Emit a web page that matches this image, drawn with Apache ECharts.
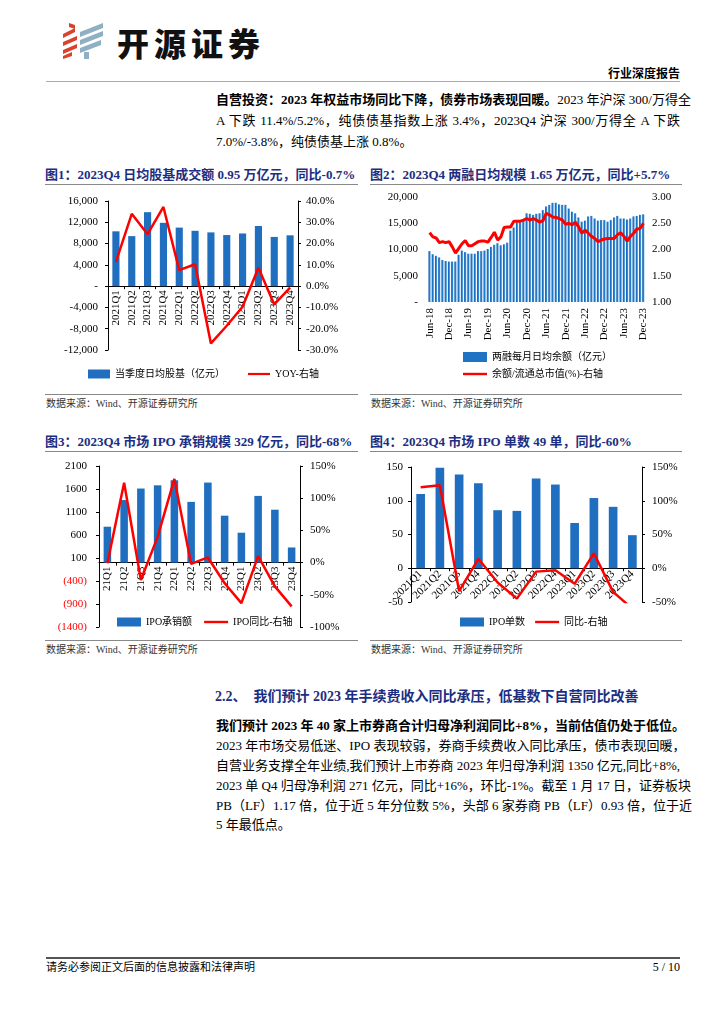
<!DOCTYPE html>
<html><head><meta charset="utf-8">
<script src="https://cdn.jsdelivr.net/npm/echarts@6.0.0/dist/echarts.min.js"></script>
<style>
body{margin:0;width:724px;height:1024px;position:relative;background:#fff;font-family:"Liberation Serif","Noto Sans CJK SC",serif;color:#000;overflow:hidden}
.a{position:absolute;white-space:nowrap}
.tx{position:absolute;font-size:13px;line-height:16px;left:216px;width:464px;white-space:nowrap}
.j{text-align:justify;text-align-last:justify}
.ct{position:absolute;font-size:13px;font-weight:bold;color:#1C2E82;white-space:nowrap;line-height:16px}
.hl{position:absolute;height:1px;background:#888}
.src{position:absolute;font-size:10px;color:#333;white-space:nowrap;line-height:12px}
.ch{position:absolute}
</style></head>
<body>
<!-- header -->
<svg class="a" style="left:0;top:0" width="120" height="70" viewBox="0 0 120 70">
 <g fill="#D8432E">
  <polygon points="69,23 75,25 75,29 69,27"/>
  <polygon points="63,34 75,28 75,32 63,38"/>
  <polygon points="63,42 77,36 77,40 63,46"/>
  <polygon points="63,50 77,44 77,48 63,54"/>
  <polygon points="63,56 72,52 72,56 63,59"/>
 </g>
 <g fill="#8FAFC3">
  <polygon points="80,32 103,23 103,28 80,37"/>
  <polygon points="80,40 103,31 103,36 80,45"/>
  <polygon points="80,48 101,40 101,45 80,53"/>
  <polygon points="84,52 89,52 89,59 84,59"/>
 </g>
</svg>
<div class="a" style="left:117px;top:24px;font-family:'Noto Sans CJK SC';font-weight:900;font-size:32px;line-height:36px;letter-spacing:5px;color:#111">开源证券</div>
<div class="a" style="right:44px;top:65px;font-family:'Noto Sans CJK SC';font-weight:bold;font-size:12px;line-height:16px">行业深度报告</div>
<div class="hl" style="left:46px;width:634px;top:81px;background:#aaa"></div>

<!-- paragraph 1 -->
<div class="tx j" style="top:92px"><b>自营投资：2023 年权益市场同比下降，债券市场表现回暖。</b>2023 年沪深 300/万得全</div>
<div class="tx j" style="top:113px">A 下跌 11.4%/5.2%，纯债债基指数上涨 3.4%，2023Q4 沪深 300/万得全 A 下跌</div>
<div class="tx" style="top:134px">7.0%/-3.8%，纯债债基上涨 0.8%。</div>

<!-- chart titles row 1 -->
<div class="ct" style="left:45px;top:167px">图1：2023Q4 日均股基成交额 0.95 万亿元，同比-0.7%</div>
<div class="ct" style="left:370px;top:167px">图2：2023Q4 两融日均规模 1.65 万亿元，同比+5.7%</div>
<div class="hl" style="left:45px;width:313px;top:184px"></div>
<div class="hl" style="left:370px;width:312px;top:184px"></div>
<div id="c1" class="ch" style="left:45px;top:186px;width:313px;height:206px"></div>
<div id="c2" class="ch" style="left:370px;top:186px;width:312px;height:206px"></div>
<div class="hl" style="left:45px;width:313px;top:394px"></div>
<div class="hl" style="left:370px;width:312px;top:394px"></div>
<div class="src" style="left:46px;top:398px">数据来源：Wind、开源证券研究所</div>
<div class="src" style="left:371px;top:398px">数据来源：Wind、开源证券研究所</div>

<!-- chart titles row 2 -->
<div class="ct" style="left:45px;top:434px">图3：2023Q4 市场 IPO 承销规模 329 亿元，同比-68%</div>
<div class="ct" style="left:370px;top:434px">图4：2023Q4 市场 IPO 单数 49 单，同比-60%</div>
<div class="hl" style="left:45px;width:313px;top:451px"></div>
<div class="hl" style="left:370px;width:312px;top:451px"></div>
<div id="c3" class="ch" style="left:45px;top:453px;width:313px;height:185px"></div>
<div id="c4" class="ch" style="left:370px;top:453px;width:312px;height:185px"></div>
<div class="hl" style="left:45px;width:313px;top:640px"></div>
<div class="hl" style="left:370px;width:312px;top:640px"></div>
<div class="src" style="left:46px;top:644px">数据来源：Wind、开源证券研究所</div>
<div class="src" style="left:371px;top:644px">数据来源：Wind、开源证券研究所</div>

<!-- section -->
<div class="a" style="left:215px;top:688px;font-size:14px;line-height:18px;font-weight:bold;color:#1C2E82">2.2、&nbsp;&nbsp;我们预计 2023 年手续费收入同比承压，低基数下自营同比改善</div>
<div class="tx" style="top:718px;font-weight:bold">我们预计 2023 年 40 家上市券商合计归母净利润同比+8%，当前估值仍处于低位。</div>
<div class="tx j" style="top:738px">2023 年市场交易低迷、IPO 表现较弱，券商手续费收入同比承压，债市表现回暖，</div>
<div class="tx j" style="top:758px">自营业务支撑全年业绩,我们预计上市券商 2023 年归母净利润 1350 亿元,同比+8%,</div>
<div class="tx j" style="top:778px">2023 单 Q4 归母净利润 271 亿元，同比+16%，环比-1%。截至 1 月 17 日，证券板块</div>
<div class="tx j" style="top:798px">PB（LF）1.17 倍，位于近 5 年分位数 5%，头部 6 家券商 PB（LF）0.93 倍，位于近</div>
<div class="tx" style="top:817px">5 年最低点。</div>

<!-- footer -->
<div class="hl" style="left:46px;width:634px;top:957px;height:2px;background:#555"></div>
<div class="a" style="left:46px;top:961px;font-size:11px;line-height:13px">请务必参阅正文后面的信息披露和法律声明</div>
<div class="a" style="right:44px;top:961px;font-size:12px;line-height:13px">5 / 10</div>

<script>
// ---------- data ----------
const quarterCats = ['2021Q1','2021Q2','2021Q3','2021Q4','2022Q1','2022Q2','2022Q3','2022Q4','2023Q1','2023Q2','2023Q3','2023Q4'];
const shortCats = ['21Q1','21Q2','21Q3','21Q4','22Q1','22Q2','22Q3','22Q4','23Q1','23Q2','23Q3','23Q4'];

const turnoverAvg = [10300, 9400, 13900, 11900, 11000, 10400, 10100, 9600, 9900, 11300, 9250, 9550];
const turnoverYoy = [11.4, 34.0, 24.4, 37.2, 7.5, 10.3, -26.9, -18.6, -9.7, 8.6, -8.6, -0.7];

const marginMonths = ['Jun-18','Jul-18','Aug-18','Sep-18','Oct-18','Nov-18','Dec-18',
 'Jan-19','Feb-19','Mar-19','Apr-19','May-19','Jun-19','Jul-19','Aug-19','Sep-19','Oct-19','Nov-19','Dec-19',
 'Jan-20','Feb-20','Mar-20','Apr-20','May-20','Jun-20','Jul-20','Aug-20','Sep-20','Oct-20','Nov-20','Dec-20',
 'Jan-21','Feb-21','Mar-21','Apr-21','May-21','Jun-21','Jul-21','Aug-21','Sep-21','Oct-21','Nov-21','Dec-21',
 'Jan-22','Feb-22','Mar-22','Apr-22','May-22','Jun-22','Jul-22','Aug-22','Sep-22','Oct-22','Nov-22','Dec-22',
 'Jan-23','Feb-23','Mar-23','Apr-23','May-23','Jun-23','Jul-23','Aug-23','Sep-23','Oct-23','Nov-23','Dec-23'];
const marginBalance = [9700,9100,8800,8500,8000,7800,7700,
 7700,7700,9000,9800,9500,9200,9200,9200,9700,9700,9800,10100,
 10500,10900,11200,10800,11000,11300,13600,14200,15200,15500,15500,16900,
 16800,16600,16800,16900,17500,18200,18500,18900,18900,18600,18500,18500,
 17800,17200,16900,16100,15300,15500,16300,16400,15900,15500,15600,15600,
 15300,15600,16100,16400,15900,15900,15700,15900,16300,16400,16600,16700];
const marginRatio = [2.32,2.24,2.22,2.13,2.15,2.13,2.15,
 2.05,1.93,2.02,2.11,2.17,2.07,2.07,2.11,2.15,2.16,2.16,2.14,
 2.23,2.33,2.18,2.24,2.42,2.43,2.43,2.54,2.54,2.54,2.56,2.59,
 2.56,2.59,2.56,2.52,2.55,2.69,2.66,2.62,2.61,2.59,2.56,2.48,
 2.50,2.47,2.52,2.43,2.31,2.37,2.31,2.25,2.21,2.15,2.18,2.20,
 2.21,2.21,2.21,2.28,2.32,2.25,2.16,2.25,2.31,2.39,2.40,2.50];

const ipoAmount = [780, 1360, 1610, 1680, 1790, 1320, 1740, 1020, 650, 1450, 1150, 329];
const ipoAmountYoy = [-1, 124, -27, 40, 130, -2, 8, -32, -63, 10, -37, -68];

const ipoCount = [110, 149, 139, 126, 86, 85, 133, 124, 67, 104, 91, 49];
const ipoCountYoy = [120, 123, -34, 14, -21, -45, -5, -3, -23, 22, -35, -60];

// ---------- styles ----------
const FF = '"Liberation Serif","Noto Sans CJK SC",serif';
const BLUE = '#1F6EBF';
const RED = '#FF0000';
const LINE_ICON = 'path://M0,0 L30,0 L30,3 L0,3 Z';
const lab = (extra) => Object.assign({fontSize:11,color:'#000',fontFamily:FF}, extra||{});
const axLine = {show:true,lineStyle:{color:'#000',width:1}};
const tick = {show:true,length:3,lineStyle:{color:'#000'}};
const comma = v => v === 0 ? '-' : v.toLocaleString('en-US');
const legendText = {fontSize:10,color:'#000',fontFamily:FF};
// distance from grid bottom to the zero line, so the category axis sits on zero
const zeroOffset = (h, min, max) => -h * (0 - min) / (max - min);

// chart 1
const c1 = echarts.init(document.getElementById('c1'));
const g1 = {h:149, min:-12000, max:16000};
c1.setOption({
  animation:false,
  grid:{left:63,top:15,width:190,height:g1.h,outerBoundsMode:'none',containLabel:false},
  legend:{left:38,top:178,itemGap:23,itemWidth:22,itemHeight:9,textStyle:legendText,
    data:[{name:'当季度日均股基（亿元）',icon:'rect'},{name:'YOY-右轴',icon:LINE_ICON}]},
  xAxis:{type:'category',data:quarterCats,offset:zeroOffset(g1.h,g1.min,g1.max),
    axisLine:{onZero:false,lineStyle:{color:'#000'}},axisTick:tick,
    axisLabel:lab({rotate:90,interval:0,margin:4})},
  yAxis:[
    {type:'value',min:g1.min,max:g1.max,interval:4000,splitLine:{show:false},axisLine:axLine,axisTick:tick,
     axisLabel:lab({formatter:comma,margin:10})},
    {type:'value',min:-30,max:40,interval:10,splitLine:{show:false},axisLine:axLine,axisTick:tick,
     axisLabel:lab({formatter:v=>v.toFixed(1)+'%',margin:8})}
  ],
  series:[
    {name:'当季度日均股基（亿元）',type:'bar',data:turnoverAvg,barWidth:'45%',itemStyle:{color:BLUE}},
    {name:'YOY-右轴',type:'line',yAxisIndex:1,data:turnoverYoy,symbol:'none',lineStyle:{color:RED,width:2.5},itemStyle:{color:RED}}
  ]
});

// chart 2
const c2 = echarts.init(document.getElementById('c2'));
c2.setOption({
  animation:false,
  grid:{left:58,top:11,width:217,height:105,outerBoundsMode:'none',containLabel:false},
  legend:{orient:'vertical',left:88,top:161,itemGap:7,itemWidth:24,itemHeight:10,textStyle:legendText,
    data:[{name:'两融每月日均余额（亿元）',icon:'rect',itemStyle:{color:'#1F73C4'}},{name:'余额/流通总市值(%)-右轴',icon:LINE_ICON}]},
  xAxis:{type:'category',data:marginMonths,axisLine:{show:false},axisTick:{show:false},
    axisLabel:lab({rotate:90,interval:5,margin:6})},
  yAxis:[
    {type:'value',min:0,max:20000,interval:5000,splitLine:{show:false},axisLine:{show:false},axisTick:{show:false},
     axisLabel:lab({formatter:comma,margin:10})},
    {type:'value',min:1,max:3,interval:0.5,splitLine:{show:false},axisLine:{show:false},axisTick:{show:false},
     axisLabel:lab({formatter:v=>v.toFixed(2),margin:7})}
  ],
  series:[
    {name:'两融每月日均余额（亿元）',type:'bar',data:marginBalance,barWidth:'72%',
     itemStyle:{color:new echarts.graphic.LinearGradient(0,0,1,0,[{offset:0,color:'#0B5DB0'},{offset:0.6,color:'#2A82D0'},{offset:1,color:'#A9D0F0'}])}},
    {name:'余额/流通总市值(%)-右轴',type:'line',yAxisIndex:1,data:marginRatio,symbol:'none',lineStyle:{color:RED,width:3},itemStyle:{color:RED}}
  ]
});

// chart 3
const c3 = echarts.init(document.getElementById('c3'));
const g3 = {h:161, min:-1400, max:2100};
c3.setOption({
  animation:false,
  grid:{left:54,top:13,width:201,height:g3.h,outerBoundsMode:'none',containLabel:false},
  legend:{left:67,top:159,itemGap:12,itemWidth:24,itemHeight:9,textStyle:legendText,
    data:[{name:'IPO承销额',icon:'rect'},{name:'IPO同比-右轴',icon:LINE_ICON}]},
  xAxis:{type:'category',data:shortCats,offset:zeroOffset(g3.h,g3.min,g3.max),
    axisLine:{onZero:false,lineStyle:{color:'#000'}},axisTick:tick,
    axisLabel:lab({rotate:90,interval:0,margin:4})},
  yAxis:[
    {type:'value',min:g3.min,max:g3.max,interval:500,splitLine:{show:false},axisLine:axLine,axisTick:tick,
     axisLabel:lab({margin:12,formatter:v=>v<0?'('+(-v)+')':String(v),color:v=>(+v<0?'#FF0000':'#000')})},
    {type:'value',min:-100,max:150,interval:50,splitLine:{show:false},axisLine:axLine,axisTick:tick,
     axisLabel:lab({formatter:v=>v+'%',margin:10})}
  ],
  series:[
    {name:'IPO承销额',type:'bar',data:ipoAmount,barWidth:'45%',itemStyle:{color:BLUE}},
    {name:'IPO同比-右轴',type:'line',yAxisIndex:1,data:ipoAmountYoy,symbol:'none',lineStyle:{color:RED,width:2.5},itemStyle:{color:RED}}
  ]
});

// chart 4
const c4 = echarts.init(document.getElementById('c4'));
const g4 = {h:135, min:-50, max:150};
c4.setOption({
  animation:false,
  grid:{left:41,top:14,width:231,height:g4.h,outerBoundsMode:'none',containLabel:false},
  legend:{left:85,top:159,itemGap:10,itemWidth:24,itemHeight:9,textStyle:legendText,
    data:[{name:'IPO单数',icon:'rect'},{name:'同比-右轴',icon:LINE_ICON}]},
  xAxis:{type:'category',data:quarterCats,offset:zeroOffset(g4.h,g4.min,g4.max),
    axisLine:{onZero:false,lineStyle:{color:'#000'}},axisTick:tick,
    axisLabel:lab({rotate:45,interval:0,margin:4})},
  yAxis:[
    {type:'value',min:g4.min,max:g4.max,interval:50,splitLine:{show:false},axisLine:axLine,axisTick:tick,
     axisLabel:lab({margin:8})},
    {type:'value',min:-50,max:150,interval:50,splitLine:{show:false},axisLine:axLine,axisTick:tick,
     axisLabel:lab({formatter:v=>v+'%',margin:10})}
  ],
  series:[
    {name:'IPO单数',type:'bar',data:ipoCount,barWidth:'45%',itemStyle:{color:BLUE}},
    {name:'同比-右轴',type:'line',yAxisIndex:1,data:ipoCountYoy,symbol:'none',clip:true,lineStyle:{color:RED,width:2.5},itemStyle:{color:RED}}
  ]
});
</script>
</body></html>
